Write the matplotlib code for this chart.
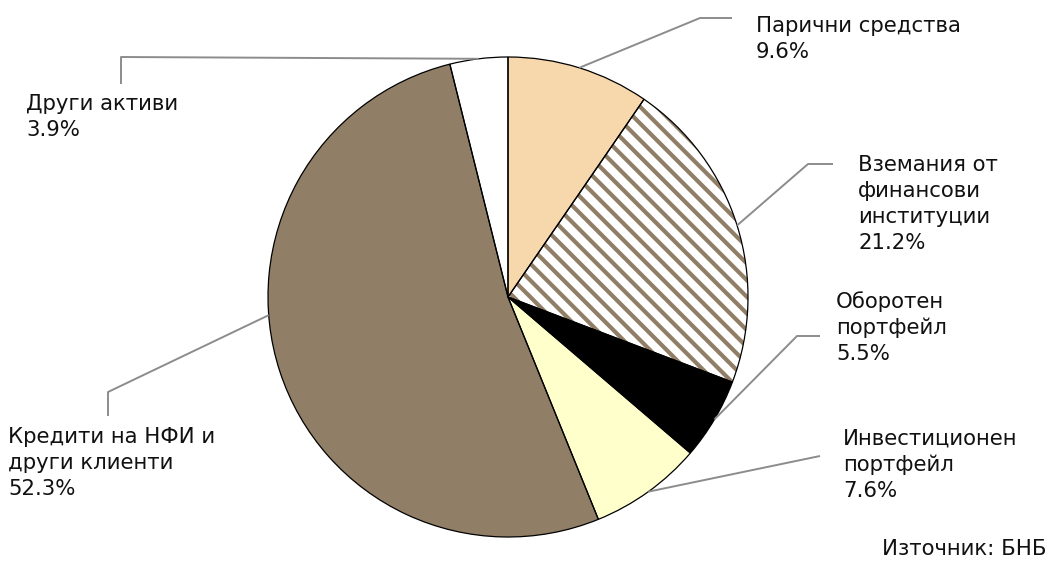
import numpy as np
import matplotlib
matplotlib.use("Agg")
import matplotlib.pyplot as plt

# Structure of bank assets (share of total, %)
categories = [
    "Парични средства",
    "Вземания от финансови институции",
    "Оборотен портфейл",
    "Инвестиционен портфейл",
    "Кредити на НФИ и други клиенти",
    "Други активи",
]
label_lines = [
    ["Парични средства"],
    ["Вземания от", "финансови", "институции"],
    ["Оборотен", "портфейл"],
    ["Инвестиционен", "портфейл"],
    ["Кредити на НФИ и", "други клиенти"],
    ["Други активи"],
]
shares = [9.6, 21.2, 5.5, 7.6, 52.3, 3.9]
source_note = "Източник: БНБ"

# ---- styling / layout ----
W, H = 1056, 567
face_colors = ["#F6D8AC", "#FFFFFF", "#000000", "#FFFFCC", "#907F66", "#FFFFFF"]
hatch_color = "#907F66"
leader_color = "#8C8C8C"
center_px = (508, 297)
radius_px = 240

# where along each wedge the leader line starts (0..1 across the wedge)
anchor_frac = [0.5, 0.5, 0.5, 0.5, 0.427, 0.5]
# leader-line bends / ends and label positions in pixel space
leader_pts = [
    [(700, 18), (732, 18)],
    [(808, 164), (833, 164)],
    [(797, 336), (820, 336)],
    [(820, 456)],
    [(108, 392), (108, 416)],
    [(121, 57), (121, 84)],
]
label_xy = [(756, 32), (858, 171), (836, 308), (843, 445), (8, 443), (26, 110)]
line_step = 26
fs = 15.3

plt.rcParams["font.family"] = ["DejaVu Sans"]
plt.rcParams["hatch.linewidth"] = 3.0

fig = plt.figure(figsize=(W / 100, H / 100), dpi=100)
ax = fig.add_axes([0, 0, 1, 1])


def to_data(p):
    return (p[0], H - p[1])


center = to_data(center_px)

# filled wedges
wedges, _ = ax.pie(
    shares, center=center, radius=radius_px, startangle=90, counterclock=False,
    colors=face_colors, wedgeprops=dict(linewidth=0), frame=True,
)
wedges[1].set_hatch("\\\\")
wedges[1].set_edgecolor(hatch_color)
wedges[1].set_linewidth(0)

# black outlines on top
outlines, _ = ax.pie(
    shares, center=center, radius=radius_px, startangle=90, counterclock=False,
    colors=["none"] * len(shares),
    wedgeprops=dict(linewidth=0.9, edgecolor="black", facecolor="none"), frame=True,
)
ax.set_xlim(0, W)
ax.set_ylim(0, H)
ax.set_aspect("equal")
ax.axis("off")

# leader lines and labels
for i, w in enumerate(wedges):
    ang = np.deg2rad(w.theta1 + anchor_frac[i] * (w.theta2 - w.theta1))
    ax0 = center[0] + radius_px * np.cos(ang)
    ay0 = center[1] + radius_px * np.sin(ang)
    pts = [(ax0, ay0)] + [to_data(p) for p in leader_pts[i]]
    xs, ys = zip(*pts)
    ax.plot(xs, ys, color=leader_color, lw=1.4, solid_capstyle="butt", zorder=3)

    lines = label_lines[i] + [f"{shares[i]:.1f}%"]
    x, y = label_xy[i]
    for k, txt in enumerate(lines):
        ax.text(x, H - (y + k * line_step), txt, fontsize=fs, color="#111111",
                ha="left", va="baseline")

ax.text(1047, H - 555, source_note, fontsize=fs, color="#111111",
        ha="right", va="baseline")

fig.savefig("out.png", dpi=100)
